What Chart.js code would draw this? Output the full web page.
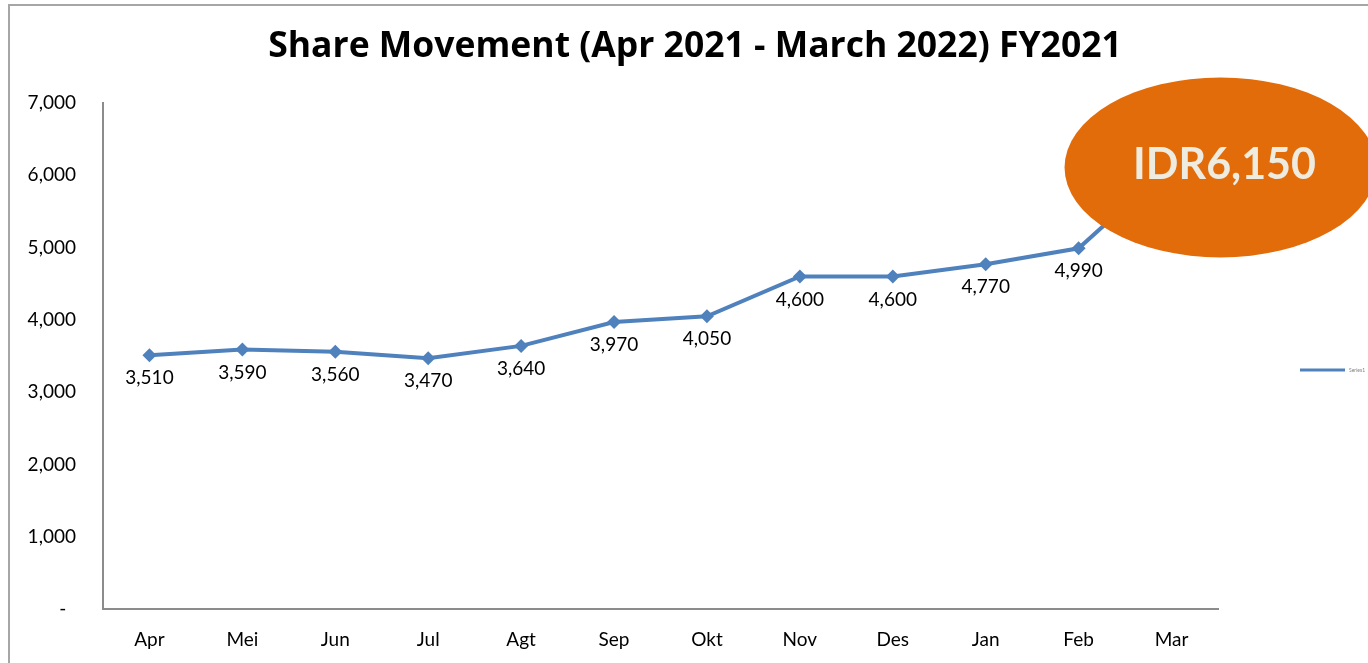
<!DOCTYPE html>
<html>
<head>
<meta charset="utf-8">
<script src="https://cdn.jsdelivr.net/npm/chart.js@4.4.0/dist/chart.umd.min.js"></script>
<style>
  html, body { margin: 0; padding: 0; background: #fff; }
  #wrap { position: relative; width: 1368px; height: 663px; }
  #frame { position: absolute; left: 8px; top: 4px; right: -10px; bottom: -10px;
           border-left: 2px solid #a6a6a6; border-top: 2px solid #a6a6a6; pointer-events: none; }
</style>
</head>
<body>
<div id="wrap">
  <canvas id="chart" width="1368" height="663"></canvas>
  <div id="frame"></div>
</div>
<script>
const months = ['Apr', 'Mei', 'Jun', 'Jul', 'Agt', 'Sep', 'Okt', 'Nov', 'Des', 'Jan', 'Feb', 'Mar'];
const sharePrice = [3510, 3590, 3560, 3470, 3640, 3970, 4050, 4600, 4600, 4770, 4990, 6150];
const yTicks = [0, 1000, 2000, 3000, 4000, 5000, 6000, 7000];
const titleText = 'Share Movement (Apr 2021 - March 2022) FY2021';
const calloutText = 'IDR6,150';
const seriesName = 'Series1';

const FONT = 'Lato, "Open Sans", sans-serif';
const fmt = v => v === 0 ? '-  ' : v.toLocaleString('en-US');

// title, labels under each point, callout ellipse over the last point, little legend on the right
const extras = {
  id: 'extras',
  afterDatasetsDraw(chart) {
    const ctx = chart.ctx;
    const meta = chart.getDatasetMeta(0);
    ctx.save();
    ctx.font = '19px ' + FONT;
    ctx.fillStyle = '#000';
    ctx.textAlign = 'center';
    ctx.textBaseline = 'middle';
    meta.data.forEach((pt, i) => {
      if (i === sharePrice.length - 1) return;
      ctx.fillText(fmt(sharePrice[i]), pt.x, pt.y + 23);
    });
    ctx.restore();
  },
  afterDraw(chart) {
    const ctx = chart.ctx;
    ctx.save();
    ctx.font = 'bold 35.5px "Open Sans", sans-serif';
    ctx.fillStyle = '#000';
    ctx.textAlign = 'center';
    ctx.textBaseline = 'middle';
    ctx.fillText(titleText, 695, 47);

    const last = chart.getDatasetMeta(0).data[sharePrice.length - 1];
    const cx = last.x + 49, cy = last.y + 3;
    ctx.beginPath();
    ctx.ellipse(cx, cy, 156, 90, 0, 0, Math.PI * 2);
    ctx.fillStyle = '#e36c0a';
    ctx.fill();
    ctx.font = 'bold 43px ' + FONT;
    ctx.fillStyle = '#eeece1';
    ctx.fillText(calloutText, cx + 4, cy - 2);

    // legend
    ctx.strokeStyle = '#4f81bd';
    ctx.lineWidth = 3;
    ctx.beginPath();
    ctx.moveTo(1300, 370);
    ctx.lineTo(1345, 370);
    ctx.stroke();
    ctx.font = '5px ' + FONT;
    ctx.fillStyle = '#7f7f7f';
    ctx.textAlign = 'left';
    ctx.fillText(seriesName, 1349, 370);
    ctx.restore();
  }
};

new Chart(document.getElementById('chart'), {
  type: 'line',
  data: {
    labels: months,
    datasets: [{
      label: seriesName,
      data: sharePrice,
      borderColor: '#4f81bd',
      backgroundColor: '#4f81bd',
      borderWidth: 4,
      pointStyle: 'rectRot',
      pointRadius: 7,
      pointBorderWidth: 0,
      tension: 0,
    }],
  },
  options: {
    responsive: false,
    animation: false,
    layout: { padding: { left: 0, right: 150, top: 103, bottom: 0 } },
    plugins: {
      legend: { display: false },
      tooltip: { enabled: false },
      title: { display: false },
    },
    scales: {
      x: {
        offset: true,
        grid: { display: false, drawTicks: false },
        border: { color: '#8c8c8c', width: 2 },
        ticks: { color: '#000', font: { family: FONT, size: 19 }, padding: 19 },
        afterFit(scale) { scale.height = 54; },
      },
      y: {
        min: 0,
        max: 7000,
        afterBuildTicks(scale) { scale.ticks = yTicks.map(v => ({ value: v })); },
        grid: { display: false, drawTicks: false },
        border: { color: '#8c8c8c', width: 2 },
        ticks: {
          color: '#000',
          font: { family: FONT, size: 19 },
          padding: 27,
          callback: v => fmt(v),
        },
        afterFit(scale) { scale.width = 103; },
      },
    },
  },
  plugins: [extras],
});
</script>
</body>
</html>
